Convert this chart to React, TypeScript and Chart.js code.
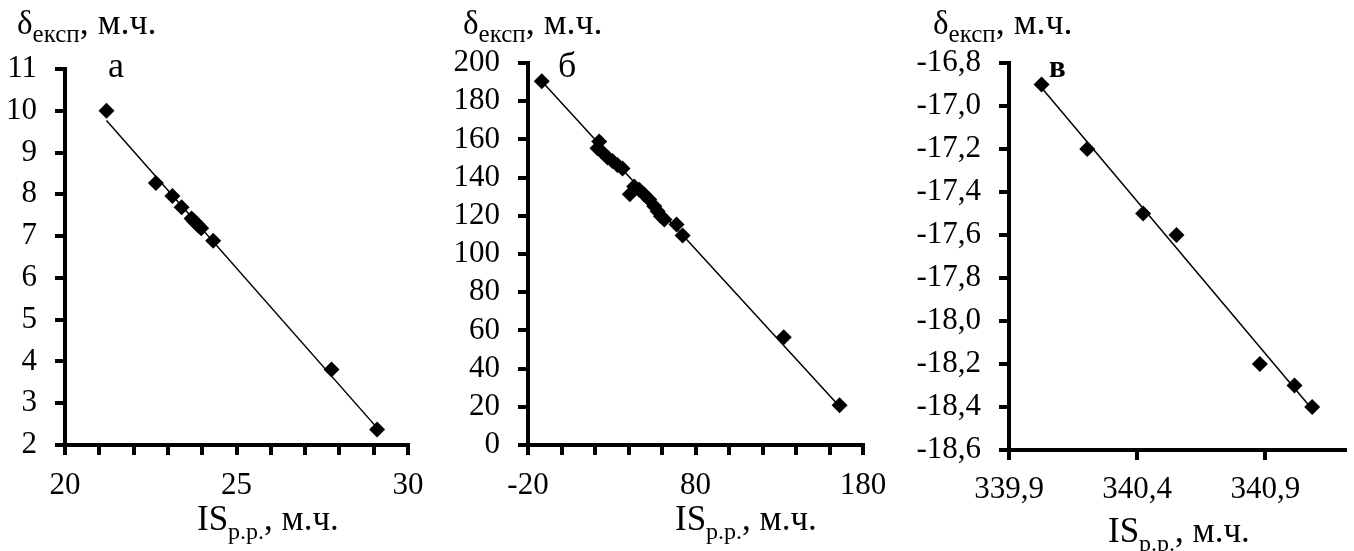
import React, { useEffect, useRef } from 'react';
import { Chart, registerables } from 'chart.js';

Chart.register(...registerables);

const W = 1354;
const H = 551;
const FONT = '"Liberation Serif", "Times New Roman", serif';

// ---------- Panel а ----------
const xA = [21.21, 22.65, 23.13, 23.40, 23.69, 23.76, 23.83, 23.90, 23.97, 24.32, 27.77, 29.10];
const yA = [10.0, 8.27, 7.96, 7.69, 7.42, 7.36, 7.30, 7.24, 7.19, 6.89, 3.81, 2.37];
const trendAX = [21.21, 29.10];
const trendAY = [9.77, 2.41];
const xTicksA = [20, 21, 22, 23, 24, 25, 26, 27, 28, 29, 30];
const xLabelsA = [20, 25, 30];
const yTicksA = [2, 3, 4, 5, 6, 7, 8, 9, 10, 11];

// ---------- Panel б ----------
const xB = [-11.8, 22.5, 21.5, 24.5, 27.5, 30.4, 33.4, 36.4, 40.8, 43.4, 46.4, 49.4, 52.4, 55.4, 57.4, 59.4, 61.4, 68.7, 72.3, 132.7, 166.0];
const yB = [190.5, 158.9, 155.4, 153.1, 150.5, 148.7, 146.6, 144.8, 131.3, 135.4, 133.7, 131.1, 128.5, 125.0, 122.4, 119.8, 118.1, 115.5, 109.7, 56.4, 20.8];
const trendBX = [-11.8, 166.0];
const trendBY = [190.5, 20.2];
const xTicksB = [-20, 0, 20, 40, 60, 80, 100, 120, 140, 160, 180];
const xLabelsB = [-20, 80, 180];
const yTicksB = [0, 20, 40, 60, 80, 100, 120, 140, 160, 180, 200];

// ---------- Panel в ----------
const xC = [340.027, 340.205, 340.423, 340.553, 340.878, 341.013, 341.082];
const yC = [-16.9, -17.2, -17.5, -17.6, -18.2, -18.3, -18.4];
const trendCX = [340.027, 341.082];
const trendCY = [-16.915, -18.41];
const xTicksC = [339.9, 340.4, 340.9];
const xLabelsC = [339.9, 340.4, 340.9];
const xMaxC = 341.21;
const yTicksC = [-18.6, -18.4, -18.2, -18.0, -17.8, -17.6, -17.4, -17.2, -17.0, -16.8];

type Part = { t: string; size: number; dy?: number; weight?: string };

function drawRich(ctx: CanvasRenderingContext2D, x: number, y: number, parts: Part[]) {
  let cx = x;
  for (const p of parts) {
    ctx.font = `${p.weight || 'normal'} ${p.size}px ${FONT}`;
    ctx.textBaseline = 'alphabetic';
    ctx.textAlign = 'left';
    ctx.fillText(p.t, cx, y + (p.dy || 0));
    cx += ctx.measureText(p.t).width;
  }
}

type PanelLayout = {
  left: number; right: number; top: number; bottom: number;
  yAxisW: number;
  yTitle: [number, number];
  xTitle: [number, number];
  letter: { t: string; x: number; y: number; size: number; weight: string };
  xLabelPad: number;
};

type PanelData = {
  xs: number[]; ys: number[];
  tx: number[]; ty: number[];
  xTicks: number[]; xLabels: number[]; xMax: number; yTicks: number[];
  fmt: (v: number) => string;
};

const intFmt = (v: number) => String(Math.round(v));
const decFmt = (v: number) => v.toFixed(1).replace('.', ',');

const panels: { layout: PanelLayout; data: PanelData }[] = [
  {
    layout: {
      left: 65, right: 408, top: 69, bottom: 445, yAxisW: 65,
      yTitle: [17, 34], xTitle: [197, 530],
      letter: { t: 'а', x: 108, y: 77, size: 36, weight: 'normal' },
      xLabelPad: 12,
    },
    data: { xs: xA, ys: yA, tx: trendAX, ty: trendAY, xTicks: xTicksA, xLabels: xLabelsA, xMax: 30, yTicks: yTicksA, fmt: intFmt },
  },
  {
    layout: {
      left: 528, right: 863, top: 63, bottom: 445, yAxisW: 90,
      yTitle: [463, 34], xTitle: [675, 530],
      letter: { t: 'б', x: 558, y: 77, size: 36, weight: 'normal' },
      xLabelPad: 12,
    },
    data: { xs: xB, ys: yB, tx: trendBX, ty: trendBY, xTicks: xTicksB, xLabels: xLabelsB, xMax: 180, yTicks: yTicksB, fmt: intFmt },
  },
  {
    layout: {
      left: 1009, right: 1345, top: 63, bottom: 450, yAxisW: 110,
      yTitle: [933, 34], xTitle: [1108, 542],
      letter: { t: 'в', x: 1049, y: 77, size: 31, weight: 'bold' },
      xLabelPad: 11,
    },
    data: { xs: xC, ys: yC, tx: trendCX, ty: trendCY, xTicks: xTicksC, xLabels: xLabelsC, xMax: xMaxC, yTicks: yTicksC, fmt: decFmt },
  },
];

function Panel({ layout, data }: { layout: PanelLayout; data: PanelData }) {
  const ref = useRef<HTMLCanvasElement | null>(null);
  useEffect(() => {
    if (!ref.current) return;
    const yW = layout.yAxisW;
    const textPlugin = {
      id: 'richText',
      afterDraw(chart: any) {
        const ctx = chart.ctx as CanvasRenderingContext2D;
        ctx.save();
        ctx.fillStyle = '#000';
        drawRich(ctx, layout.yTitle[0], layout.yTitle[1], [
          { t: 'δ', size: 33 },
          { t: 'експ', size: 25, dy: 8 },
          { t: ', м.ч.', size: 36 },
        ]);
        drawRich(ctx, layout.xTitle[0], layout.xTitle[1], [
          { t: 'IS', size: 35 },
          { t: 'р.р.', size: 24, dy: 9 },
          { t: ', м.ч.', size: 35 },
        ]);
        drawRich(ctx, layout.letter.x, layout.letter.y, [
          { t: layout.letter.t, size: layout.letter.size, weight: layout.letter.weight },
        ]);
        ctx.restore();
      },
    };
    const chart = new Chart(ref.current, {
      type: 'scatter',
      data: {
        datasets: [
          {
            data: data.xs.map((x, i) => ({ x, y: data.ys[i] })),
            pointStyle: 'rectRot',
            pointRadius: 8,
            pointHoverRadius: 8,
            backgroundColor: '#000',
            borderColor: '#000',
            borderWidth: 0,
            clip: false,
          } as any,
          {
            type: 'line',
            data: data.tx.map((x, i) => ({ x, y: data.ty[i] })),
            borderColor: '#000',
            borderWidth: 1.5,
            pointRadius: 0,
            showLine: true,
            fill: false,
            clip: false,
          } as any,
        ],
      },
      options: {
        animation: false,
        responsive: false,
        maintainAspectRatio: false,
        events: [],
        layout: {
          padding: { left: layout.left - yW, right: W - layout.right, top: layout.top, bottom: 0 },
        },
        plugins: {
          legend: { display: false },
          tooltip: { enabled: false },
        },
        scales: {
          x: {
            type: 'linear',
            position: 'bottom',
            min: data.xTicks[0],
            max: data.xMax,
            afterBuildTicks: (s: any) => {
              s.ticks = data.xTicks.map((v) => ({ value: v }));
            },
            afterFit: (s: any) => {
              s.height = H - layout.bottom;
              s.paddingLeft = 0;
              s.paddingRight = 0;
            },
            grid: { display: true, drawOnChartArea: false, drawTicks: true, tickLength: 10, color: '#000', lineWidth: 4 },
            border: { display: true, color: '#000', width: 4 },
            ticks: {
              autoSkip: false,
              maxRotation: 0,
              minRotation: 0,
              padding: layout.xLabelPad,
              color: '#000',
              font: { family: FONT, size: 31 },
              callback: (v: any) => (data.xLabels.some((l) => Math.abs(l - v) < 1e-6) ? data.fmt(v) : ''),
            },
          },
          y: {
            type: 'linear',
            min: data.yTicks[0],
            max: data.yTicks[data.yTicks.length - 1],
            afterBuildTicks: (s: any) => {
              s.ticks = data.yTicks.map((v) => ({ value: v }));
            },
            afterFit: (s: any) => {
              s.width = yW;
              s.paddingTop = 0;
              s.paddingBottom = 0;
            },
            grid: { display: true, drawOnChartArea: false, drawTicks: true, tickLength: 10, color: '#000', lineWidth: 4 },
            border: { display: true, color: '#000', width: 4 },
            ticks: {
              autoSkip: false,
              padding: 18,
              color: '#000',
              font: { family: FONT, size: 31 },
              callback: (v: any) => data.fmt(v),
            },
          },
        },
      } as any,
      plugins: [textPlugin],
    });
    return () => chart.destroy();
  }, []);
  return (
    <canvas
      ref={ref}
      width={W}
      height={H}
      style={{ position: 'absolute', left: 0, top: 0, width: W, height: H }}
    />
  );
}

export default function App() {
  return (
    <div style={{ position: 'fixed', left: 0, top: 0, width: W, height: H, background: '#fff', overflow: 'hidden' }}>
      {panels.map((p, i) => (
        <Panel key={i} layout={p.layout} data={p.data} />
      ))}
    </div>
  );
}
